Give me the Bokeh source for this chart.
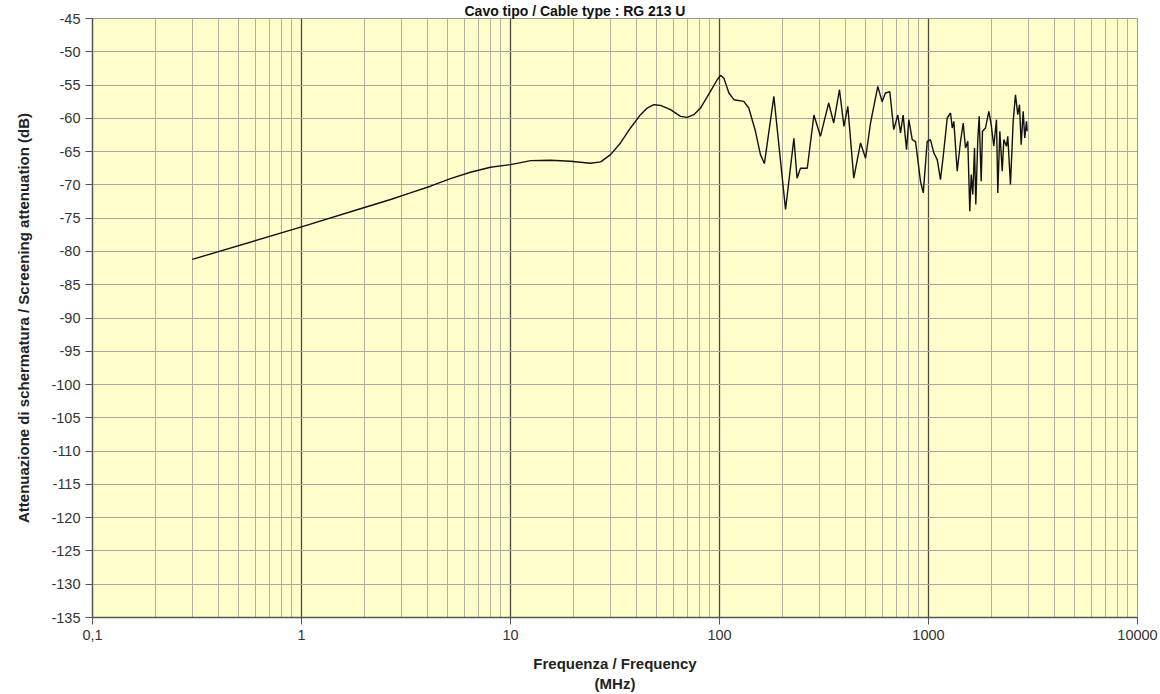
from bokeh.plotting import figure
from bokeh.models import Range1d, FixedTicker, Title
from bokeh.embed import file_html
from bokeh.resources import INLINE

# ---- data ----
freq_mhz = [0.3, 1, 2, 2.67, 3.32, 4.14, 5.16, 6.43, 8.02, 10, 12.5, 15.5, 19.4, 24.1,
            27.0, 30.1, 33.6, 37.5, 41.9, 45.1, 48.5, 52.2, 58.3, 65.1, 70.0, 75.4,
            81.1, 90.5, 97.5, 101.1, 104.9, 110.9, 117.2, 130.7, 138.1, 148.6, 157,
            164, 182, 207, 227, 235, 244,
            263, 283, 304, 333, 352, 375, 394, 411, 439, 473, 500, 528, 572, 600,
            622, 653, 682, 713, 735, 756, 785, 805, 836, 867, 916, 944,
            986, 1022, 1060, 1101, 1141, 1176, 1206, 1229, 1275, 1299, 1322, 1372,
            1423, 1466, 1503, 1542, 1576, 1601, 1629, 1660, 1684, 1721, 1748, 1787,
            1813, 1874, 1944, 1995, 2053, 2115, 2146, 2194, 2253, 2293, 2361, 2395,
            2467, 2542, 2607, 2674, 2725, 2776, 2838, 2888, 2943, 2966]
attenuation_db = [-81.2, -76.3, -73.4, -72.2, -71.2, -70.2, -69.05, -68.1, -67.35, -66.95,
                  -66.35, -66.3, -66.45, -66.75, -66.55, -65.45, -63.7, -61.45, -59.45,
                  -58.45, -57.95, -58.05, -58.7, -59.7, -59.85, -59.45, -58.45, -55.95,
                  -54.2, -53.55, -53.95, -56.2, -57.2, -57.45, -58.45, -61.95, -65.45,
                  -66.8, -56.7, -73.7, -63.0, -69.0, -67.5,
                  -67.5, -59.5, -62.7, -57.7, -60.7, -55.7, -61.2, -58.2, -69.0, -63.7,
                  -66.0, -60.7, -55.2, -57.5, -56.2, -56.0, -61.7, -59.5, -62.2, -59.5,
                  -64.7, -60.2, -63.2, -63.5, -69.5, -71.2,
                  -63.45, -63.2, -65.2, -66.2, -69.2, -65.7, -62.45, -59.95, -59.2, -61.45,
                  -60.45, -67.95, -63.45, -60.7, -64.45, -63.45, -73.95, -68.45, -71.45,
                  -64.45, -72.95, -63.2, -59.7, -69.45, -61.95, -61.45, -58.95, -60.95,
                  -64.2, -60.2, -71.2, -61.95, -67.95, -63.2, -64.2, -62.7, -69.95, -60.45,
                  -56.45, -59.45, -57.95, -63.95, -58.95, -62.95, -60.45, -61.95]

x_major_ticks = [0.1, 1, 10, 100, 1000, 10000]
x_minor_ticks = [m * d for d in [0.1, 1, 10, 100, 1000] for m in range(2, 10)]
x_tick_labels = ["0,1", "1", "10", "100", "1000", "10000"]
y_ticks = list(range(-135, -44, 5))
y_tick_labels = [str(v) for v in y_ticks]

title_text = "Cavo tipo / Cable type :  RG 213 U"
y_title = "Attenuazione di schermatura / Screening attenuation (dB)"
x_title = "Frequenza / Frequency\n(MHz)"

FONT = "Liberation Sans"

p = figure(width=1160, height=694, x_axis_type="log",
           x_range=Range1d(0.1, 10000), y_range=Range1d(-135, -45),
           output_backend="svg", toolbar_location=None,
           min_border_left=92, min_border_right=23, min_border_top=17,
           min_border_bottom=77)
p.background_fill_color = "#FFFFCC"
p.border_fill_color = "white"
p.outline_line_color = "#9a9a90"

t = Title(text=title_text, align="left", offset=372, standoff=0,
          text_font=FONT, text_font_size="14px", text_font_style="bold",
          text_color="#111111")
p.add_layout(t, "above")

xt = FixedTicker(ticks=x_major_ticks, minor_ticks=x_minor_ticks)
yt = FixedTicker(ticks=y_ticks)
p.xaxis.ticker = xt
p.yaxis.ticker = yt
p.xgrid.ticker = xt
p.ygrid.ticker = yt

p.xaxis.major_label_overrides = {tk: lab for tk, lab in zip(x_major_ticks, x_tick_labels)}
p.yaxis.major_label_overrides = {tk: lab for tk, lab in zip(y_ticks, y_tick_labels)}

for ax in (p.xaxis, p.yaxis):
    ax.axis_line_color = "#555555"
    ax.axis_line_width = 1.5
    ax.major_tick_line_color = "#555555"
    ax.major_tick_out = 7
    ax.major_tick_in = 0
    ax.minor_tick_line_color = None
    ax.major_label_text_font = FONT
    ax.major_label_text_font_size = "14.5px"
    ax.major_label_text_color = "#333333"
    ax.major_label_standoff = 5
    ax.axis_label_text_font = FONT
    ax.axis_label_text_font_style = "bold"
    ax.axis_label_text_font_size = "15px"
    ax.axis_label_text_color = "#222222"

p.yaxis.axis_label = y_title
p.yaxis.axis_label_standoff = 16
p.xaxis.axis_label = x_title
p.xaxis.axis_label_standoff = 12

p.xgrid.grid_line_color = "#4a4a4a"
p.xgrid.grid_line_width = 1.3
p.xgrid.minor_grid_line_color = "#b0b0a0"
p.xgrid.minor_grid_line_width = 1
p.ygrid.grid_line_color = "#a8a89c"
p.ygrid.grid_line_width = 1

p.line(freq_mhz, attenuation_db, line_color="#111111", line_width=1.4)

open("out.html", "w").write(file_html(p, INLINE))
